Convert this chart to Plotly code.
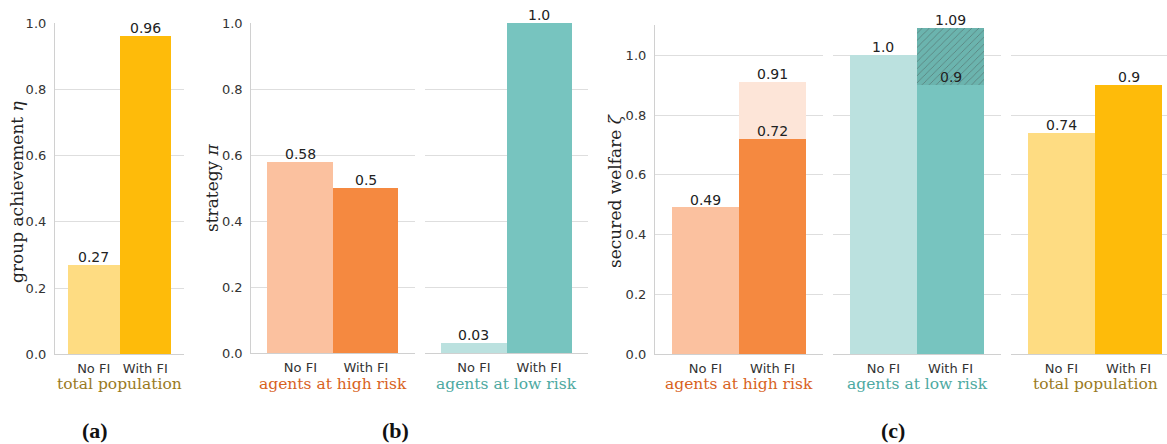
import plotly.graph_objects as go

# ---------------- data ----------------
categories = ["No FI", "With FI"]
a_total_pop = [0.27, 0.96]            # group achievement eta
b_high_risk = [0.58, 0.5]             # strategy pi, high risk
b_low_risk = [0.03, 1.0]              # strategy pi, low risk
c_high_risk = [0.49, 0.72]            # secured welfare zeta, high risk
c_high_risk_upper = [0.91]            # upper (light) bar for With FI
c_low_risk = [1.0, 0.9]               # secured welfare zeta, low risk
c_low_risk_upper = [1.09]             # upper (hatched) bar for With FI
c_total_pop = [0.74, 0.9]             # secured welfare zeta, total population
y_ticks = [0.0, 0.2, 0.4, 0.6, 0.8, 1.0]

# ---------------- style ----------------
W, H = 1167, 444
YEL_L, YEL_D = "#FEDC82", "#FEBB0A"
ORA_L, ORA_D, ORA_XL = "#FBC19F", "#F58940", "#FDE5D8"
TEA_L, TEA_D, TEA_H, TEA_HL = "#BBE1DF", "#77C4BF", "#6BB4AE", "#58A09A"
LBL_POP, LBL_HIGH, LBL_LOW = "#9A7A1E", "#D8621D", "#4DA9A1"
GRID = "#dedede"
SPINE = "#d0d0d0"
TICKC = "#333333"
VALC = "#222222"
SERIF = "DejaVu Serif"
SANS = "DejaVu Sans"


def xd(l, r):
    return [l / W, min(r / W, 1.0)]


def yd(top, bottom):
    return [(H - bottom) / H, (H - top) / H]


UNIT = 67.2
panels = [
    dict(x=(55, 184), y=(23, 354.3), yr=[0, 1.0], ylab=True, spine=True, xr=[-0.75, 1.75]),
    dict(x=(251.3, 415), y=(23, 353.3), yr=[0, 1.0], ylab=True, spine=True, xr=[-0.75, 1.75]),
    dict(x=(425, 588), y=(23, 353.3), yr=[0, 1.0], ylab=False, spine=False, xr=[-0.75, 1.75]),
    dict(x=(655, 823), y=(25.4, 354.3), yr=[0, 1.1], ylab=True, spine=True, xr=[-0.75, 1.75]),
    dict(x=(833, 1001), y=(25.4, 354.3), yr=[0, 1.1], ylab=False, spine=False, xr=[-0.75, 1.75]),
    dict(x=(1011, 1167), y=(25.4, 354.3), yr=[0, 1.1], ylab=False, spine=False,
         xr=[-0.75, -0.75 + (1167 - 1011) / UNIT]),
]

fig = go.Figure()
layout = dict(
    width=W, height=H, margin=dict(l=0, r=0, t=0, b=0, pad=0, autoexpand=False),
    paper_bgcolor="white", plot_bgcolor="white",
    barmode="overlay", showlegend=False, bargap=0,
)
annotations = []

for i, p in enumerate(panels):
    sfx = "" if i == 0 else str(i + 1)
    layout["xaxis" + sfx] = dict(
        domain=xd(*p["x"]), anchor="y" + sfx, range=p["xr"],
        tickmode="array", tickvals=[0, 1], ticktext=categories,
        showgrid=False, zeroline=False, ticks="", automargin=False,
        showline=True, linecolor=SPINE, linewidth=1.2,
        tickfont=dict(family=SANS, size=13, color=TICKC),
        ticklabelstandoff=2, fixedrange=True,
    )
    layout["yaxis" + sfx] = dict(
        domain=yd(*p["y"]), anchor="x" + sfx, range=p["yr"],
        tickmode="array", tickvals=y_ticks,
        ticktext=[f"{v:.1f}" for v in y_ticks],
        showticklabels=p["ylab"], automargin=False,
        showgrid=True, gridcolor=GRID, gridwidth=1, zeroline=False, ticks="",
        showline=p["spine"], linecolor=SPINE, linewidth=1.2,
        tickfont=dict(family=SANS, size=13, color=TICKC),
        ticklabelstandoff=5, fixedrange=True,
    )


def add_bars(idx, xs, ys, colors, pattern=None):
    sfx = "" if idx == 0 else str(idx + 1)
    marker = dict(color=colors, line=dict(width=0))
    if pattern:
        marker["pattern"] = pattern
    fig.add_trace(go.Bar(
        x=xs, y=ys, width=[1.0] * len(xs), marker=marker,
        xaxis="x" + sfx, yaxis="y" + sfx, hoverinfo="x+y",
    ))


def add_values(idx, xs, ys):
    sfx = "" if idx == 0 else str(idx + 1)
    for xv, yv in zip(xs, ys):
        annotations.append(dict(
            x=xv, y=yv, xref="x" + sfx, yref="y" + sfx,
            text=str(yv), showarrow=False, yanchor="bottom", xanchor="center",
            yshift=-2, font=dict(family=SANS, size=14, color=VALC),
        ))


pos = [0, 1]
add_bars(0, pos, a_total_pop, [YEL_L, YEL_D])
add_values(0, pos, a_total_pop)
add_bars(1, pos, b_high_risk, [ORA_L, ORA_D])
add_values(1, pos, b_high_risk)
add_bars(2, pos, b_low_risk, [TEA_L, TEA_D])
add_values(2, pos, b_low_risk)
add_bars(3, [1], c_high_risk_upper, [ORA_XL])
add_bars(3, pos, c_high_risk, [ORA_L, ORA_D])
add_values(3, [1], c_high_risk_upper)
add_values(3, pos, c_high_risk)
add_bars(4, [1], c_low_risk_upper, [TEA_H],
         pattern=dict(shape="/", fgcolor=TEA_HL, bgcolor=TEA_H, size=5, solidity=0.15))
add_bars(4, pos, c_low_risk, [TEA_L, TEA_D])
add_values(4, [1], c_low_risk_upper)
add_values(4, pos, c_low_risk)
add_bars(5, pos, c_total_pop, [YEL_L, YEL_D])
add_values(5, pos, c_total_pop)

group_labels = [
    ("total population", LBL_POP),
    ("agents at high risk", LBL_HIGH),
    ("agents at low risk", LBL_LOW),
    ("agents at high risk", LBL_HIGH),
    ("agents at low risk", LBL_LOW),
    ("total population", LBL_POP),
]
for i, (txt, col) in enumerate(group_labels):
    sfx = "" if i == 0 else str(i + 1)
    annotations.append(dict(
        x=0.5, y=(H - 384) / H, xref="x" + sfx, yref="paper",
        text=txt, showarrow=False, xanchor="center", yanchor="middle",
        font=dict(family=SERIF, size=15.5, color=col),
    ))

y_titles = [("group achievement <i>η</i>", 17, 192),
            ("strategy <i>π</i>", 212, 188),
            ("secured welfare <i>ζ</i>", 615, 191)]
for txt, px, py in y_titles:
    annotations.append(dict(
        x=px / W, y=(H - py) / H, xref="paper", yref="paper", text=txt,
        textangle=-90, showarrow=False, xanchor="center", yanchor="middle",
        font=dict(family=SERIF, size=17, color="#222222"),
    ))

for txt, px in [("(a)", 95), ("(b)", 395), ("(c)", 893)]:
    annotations.append(dict(
        x=px / W, y=(H - 430) / H, xref="paper", yref="paper", text=f"<b>{txt}</b>",
        showarrow=False, xanchor="center", yanchor="middle",
        font=dict(family="Liberation Serif", size=22, color="#111111"),
    ))

layout["annotations"] = annotations
fig.update_layout(**layout)
fig.write_html(
    "out.html",
    config={"responsive": False, "displayModeBar": False},
    post_script="document.body.style.margin='0';document.body.style.padding='0';",
)
